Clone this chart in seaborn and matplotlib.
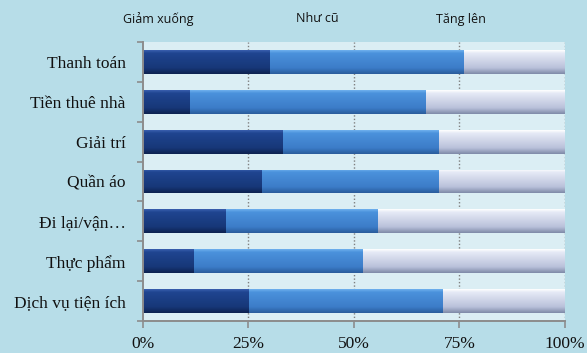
import numpy as np
import pandas as pd
import matplotlib
matplotlib.use("Agg")
import matplotlib.pyplot as plt
import seaborn as sns
from matplotlib.colors import LinearSegmentedColormap

categories = ["Thanh toán", "Tiền thuê nhà", "Giải trí", "Quần áo",
              "Đi lại/vận…", "Thực phẩm", "Dịch vụ tiện ích"]
giam_xuong = [30, 11, 33, 28, 19.5, 12, 25]
nhu_cu = [46, 56, 37, 42, 36, 40, 46]
tang_len = [24, 33, 30, 30, 44.5, 48, 29]
series_names = ["Giảm xuống", "Như cũ", "Tăng lên"]
x_ticks = [0, 25, 50, 75, 100]
x_tick_labels = ["0%", "25%", "50%", "75%", "100%"]

df = pd.DataFrame({"cat": categories, "Giảm xuống": giam_xuong,
                   "Như cũ": nhu_cu, "Tăng lên": tang_len})
df["c1"] = df["Giảm xuống"]
df["c2"] = df["c1"] + df["Như cũ"]
df["c3"] = df["c2"] + df["Tăng lên"]

sns.set_theme(style="white")
plt.rcParams["font.family"] = ["Liberation Serif", "DejaVu Serif"]

fig_bg = "#b7dde8"
ax_bg = "#dbeef4"
fig = plt.figure(figsize=(5.87, 3.53), dpi=100, facecolor=fig_bg)
ax = fig.add_axes([0.2436, 0.0907, 0.7189, 0.790])
ax.set_facecolor(ax_bg)

# bevel shading for each series: (top edge, body top, body bottom, bottom edge)
shades = [
    ["#3a5fae", "#1f4590", "#173778", "#0d2250"],
    ["#6fb0ee", "#4b92dc", "#3c7cc8", "#2a5c9c"],
    ["#ffffff", "#e6eaf6", "#b9c1da", "#7f8aa8"],
]
base_colors = ["#1a3c82", "#4288d4", "#c8cfe4"]

# stacked bars: draw cumulative totals from the longest to the shortest
for col, color in zip(["c3", "c2", "c1"], base_colors[::-1]):
    sns.barplot(data=df, x=col, y="cat", orient="h", color=color,
                width=0.6, ax=ax, saturation=1, zorder=2, linewidth=0)

ax.set_xlim(0, 100)
ax.set_ylim(6.5, -0.5)

# bevel gradient on each segment
n = len(categories)
patches = ax.patches
cmaps = [LinearSegmentedColormap.from_list(f"s{i}", list(zip([0, 0.12, 0.75, 1.0], s)))
         for i, s in enumerate(shades)]
series_for_group = [2, 1, 0]
for g in range(3):
    cmap = cmaps[series_for_group[g]]
    for p in patches[g * n:(g + 1) * n]:
        x0, y0 = p.get_x(), p.get_y()
        w, h = p.get_width(), p.get_height()
        grad = np.linspace(0, 1, 64).reshape(-1, 1)
        im = ax.imshow(grad, cmap=cmap, aspect="auto", origin="upper",
                       extent=[x0, x0 + w, y0 + h, y0], zorder=2.5,
                       interpolation="bilinear")
        im.set_clip_path(p)
        p.set_edgecolor("none")

ax.set_xlim(0, 100)
ax.set_ylim(6.5, -0.5)

# gridlines
for xv in x_ticks[1:]:
    ax.axvline(xv, color="#7f7f7f", linestyle=(0, (1, 1.5)), linewidth=1.0, zorder=1)

ax.set_xlabel("")
ax.set_ylabel("")
ax.set_xticks(x_ticks)
ax.set_xticklabels(x_tick_labels, fontsize=12.5, color="#111111")
ax.set_yticks(range(n))
ax.set_yticklabels(categories, fontsize=12.5, color="#111111")
ax.set_yticks(np.arange(-0.5, n, 1), minor=True)
ax.tick_params(axis="y", which="major", length=0, pad=12.5)
ax.tick_params(axis="y", which="minor", length=4, color="#8c8c8c", width=1.2, left=True)
ax.tick_params(axis="x", which="major", length=5, color="#8c8c8c", width=1.2, bottom=True, pad=6)

for s in ["top", "right"]:
    ax.spines[s].set_visible(False)
for s in ["left", "bottom"]:
    ax.spines[s].set_color("#8c8c8c")
    ax.spines[s].set_linewidth(1.4)

# series labels above the plot
label_x = [158 / 587, 317 / 587, 461 / 587]
for name, xf in zip(series_names, label_x):
    fig.text(xf, 1 - 19 / 353, name, ha="center", va="center", fontsize=9,
             family=["Open Sans", "DejaVu Sans"], color="#111111")

fig.savefig("out.png", dpi=100, facecolor=fig_bg)
